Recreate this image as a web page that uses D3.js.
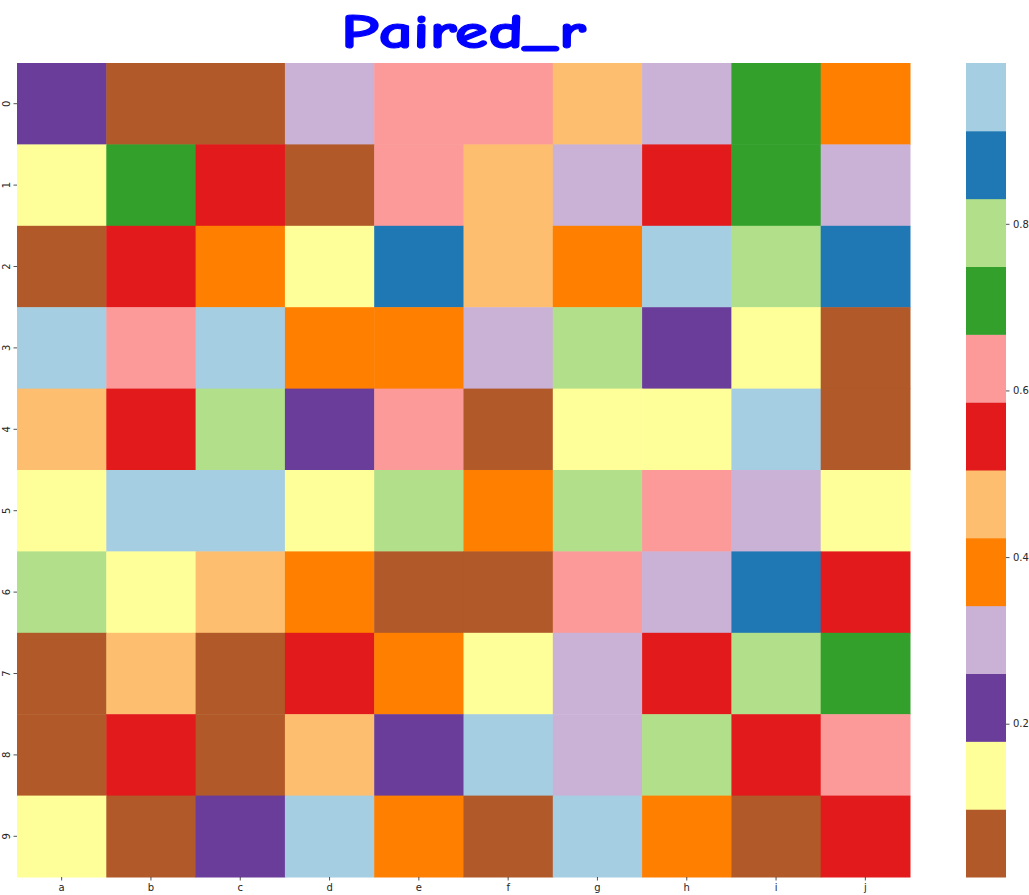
<!DOCTYPE html>
<html>
<head>
<meta charset="utf-8">
<script src="https://cdn.jsdelivr.net/npm/d3@7"></script>
<style>
  body { margin: 0; background: #fff; }
  .axis text { font-family: "DejaVu Sans", sans-serif; font-size: 10px; fill: #262626; }
  .axis path { display: none; }
  .axis line { stroke: #262626; stroke-width: 0.8; }
</style>
</head>
<body>
<div class="heatmap-chart"></div>
<script>
// rows and columns of the heatmap
var rowLabels = ["0", "1", "2", "3", "4", "5", "6", "7", "8", "9"];
var colLabels = ["a", "b", "c", "d", "e", "f", "g", "h", "i", "j"];

// cell values, one array per row
var row0 = [0.22, 0.05, 0.07, 0.30, 0.62, 0.63, 0.47, 0.29, 0.71, 0.38];
var row1 = [0.14, 0.70, 0.55, 0.06, 0.64, 0.46, 0.31, 0.53, 0.72, 0.28];
var row2 = [0.04, 0.57, 0.40, 0.12, 0.87, 0.44, 0.37, 0.96, 0.79, 0.85];
var row3 = [0.93, 0.61, 0.97, 0.36, 0.39, 0.33, 0.78, 0.21, 0.16, 0.02];
var row4 = [0.48, 0.52, 0.81, 0.24, 0.65, 0.08, 0.11, 0.13, 0.95, 0.03];
var row5 = [0.15, 0.94, 0.993, 0.17, 0.76, 0.35, 0.80, 0.60, 0.27, 0.10];
var row6 = [0.82, 0.12, 0.45, 0.41, 0.09, 0.06, 0.66, 0.32, 0.89, 0.58];
var row7 = [0.04, 0.49, 0.07, 0.54, 0.38, 0.15, 0.32, 0.56, 0.77, 0.73];
var row8 = [0.03, 0.51, 0.05, 0.44, 0.19, 0.93, 0.29, 0.78, 0.55, 0.62];
var row9 = [0.13, 0.02, 0.23, 0.98, 0.40, 0.09, 0.94, 0.36, 0.016, 0.57];

// Paired_r colormap (low -> high)
var pairedR = ["#b15928", "#ffff99", "#6a3d9a", "#cab2d6", "#ff7f00", "#fdbf6f",
               "#e31a1c", "#fb9a99", "#33a02c", "#b2df8a", "#1f78b4", "#a6cee3"];
var cbarTicks = [0.2, 0.4, 0.6, 0.8];

var rows = [row0, row1, row2, row3, row4, row5, row6, row7, row8, row9];
var cells = [];
rows.forEach(function (r, i) {
  r.forEach(function (v, j) {
    cells.push({ row: rowLabels[i], col: colLabels[j], value: v });
  });
});

var width = 1029, height = 895;
var plot = { left: 17, right: 910, top: 63, bottom: 877 };
var cbar = { left: 966, right: 1006 };

var svg = d3.select(".heatmap-chart").append("svg")
  .attr("width", width)
  .attr("height", height);

var x = d3.scaleBand().domain(colLabels).range([plot.left, plot.right]);
var y = d3.scaleBand().domain(rowLabels).range([plot.top, plot.bottom]);

var vmin = d3.min(cells, function (d) { return d.value; });
var vmax = d3.max(cells, function (d) { return d.value; });
var color = d3.scaleQuantize().domain([vmin, vmax]).range(pairedR);

svg.append("g").selectAll("rect")
  .data(cells)
  .enter().append("rect")
  .attr("x", function (d) { return x(d.col); })
  .attr("y", function (d) { return y(d.row); })
  .attr("width", x.bandwidth() + 0.5)
  .attr("height", y.bandwidth() + 0.5)
  .attr("fill", function (d) { return color(d.value); });

// x axis
svg.append("g")
  .attr("class", "axis")
  .attr("transform", "translate(0," + plot.bottom + ")")
  .call(d3.axisBottom(x).tickSize(3.5).tickPadding(3.5));

// y axis, labels rotated like seaborn
var yAxis = svg.append("g")
  .attr("class", "axis")
  .attr("transform", "translate(" + plot.left + ",0)")
  .call(d3.axisLeft(y).tickSize(3.5).tickPadding(3.5));
yAxis.selectAll("text")
  .attr("x", 0).attr("dy", 0)
  .attr("text-anchor", "middle")
  .attr("dominant-baseline", "auto")
  .attr("transform", "translate(-7,0) rotate(-90)");

// colorbar
var cy = d3.scaleLinear().domain([vmin, vmax]).range([plot.bottom, plot.top]);
var edges = [vmin].concat(color.thresholds()).concat([vmax]);
svg.append("g").selectAll("rect")
  .data(pairedR)
  .enter().append("rect")
  .attr("x", cbar.left)
  .attr("width", cbar.right - cbar.left)
  .attr("y", function (c, i) { return cy(edges[i + 1]); })
  .attr("height", function (c, i) { return cy(edges[i]) - cy(edges[i + 1]) + 0.5; })
  .attr("fill", function (c) { return c; });

svg.append("g")
  .attr("class", "axis")
  .attr("transform", "translate(" + cbar.right + ",0)")
  .call(d3.axisRight(cy).tickValues(cbarTicks).tickFormat(d3.format(".1f")).tickSize(3.5).tickPadding(3.5));

// title
svg.append("text")
  .attr("x", (plot.left + plot.right) / 2)
  .attr("y", 48)
  .attr("text-anchor", "middle")
  .attr("fill", "#0000ff")
  .attr("stroke", "#0000ff")
  .attr("stroke-width", 1.2)
  .attr("font-family", "'Comic Sans MS', 'Comic Neue', 'DejaVu Sans', sans-serif")
  .attr("font-weight", "bold")
  .attr("font-size", 49)
  .attr("textLength", 245)
  .attr("lengthAdjust", "spacingAndGlyphs")
  .text("Paired_r");
</script>
</body>
</html>
